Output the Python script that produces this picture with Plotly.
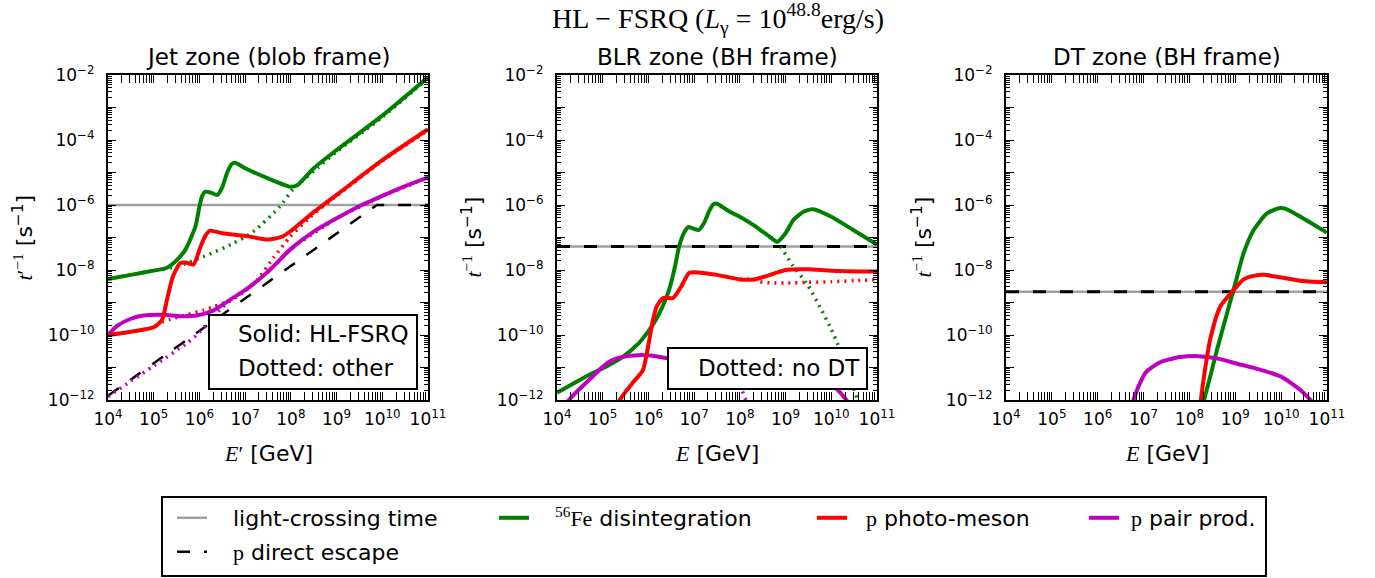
import numpy as np
import plotly.graph_objects as go

W, H = 1375, 578

# ---------------- data (log10 E [GeV], log10 rate [1/s]) ----------------
# Jet zone (blob frame)
jet_fe_E = [4.0, 4.5, 5.0, 5.29, 5.51, 5.69, 5.91, 6.0, 6.06, 6.13, 6.25, 6.39, 6.5, 6.6, 6.7, 6.78, 7.0, 7.5, 8.0, 8.15, 8.5, 9.0, 10.0, 11.0]
jet_fe_R = [-8.28, -8.15, -8.02, -7.93, -7.69, -7.38, -6.67, -6.05, -5.72, -5.59, -5.62, -5.69, -5.45, -5.03, -4.75, -4.7, -4.87, -5.18, -5.44, -5.38, -4.87, -4.31, -3.25, -2.07]
jet_fe_dot_E = [4.0, 4.5, 5.0, 5.29, 5.6, 6.09, 6.74, 7.18, 7.76, 8.05, 8.3, 8.6, 9.0, 10.0, 11.0]
jet_fe_dot_R = [-8.28, -8.15, -8.02, -7.96, -7.85, -7.59, -7.18, -6.82, -6.05, -5.5, -5.2, -4.84, -4.36, -3.3, -2.1]
jet_pm_E = [4.0, 4.5, 5.0, 5.18, 5.3, 5.42, 5.58, 5.7, 5.87, 6.02, 6.13, 6.23, 6.5, 7.0, 7.5, 7.8, 8.0, 8.42, 9.0, 10.0, 11.0]
jet_pm_R = [-10.0, -9.9, -9.76, -9.54, -8.85, -8.2, -7.79, -7.77, -7.83, -7.3, -6.95, -6.79, -6.87, -6.95, -7.06, -6.98, -6.8, -6.31, -5.69, -4.62, -3.67]
jet_pm_dot_E = [4.0, 4.5, 5.0, 5.2, 5.36, 5.72, 6.09, 6.31, 6.7, 7.0, 7.3, 7.62, 7.98, 8.4, 9.0, 10.0, 11.0]
jet_pm_dot_R = [-10.0, -9.9, -9.76, -9.6, -9.52, -9.38, -9.23, -9.13, -8.92, -8.65, -8.25, -7.62, -6.99, -6.4, -5.72, -4.65, -3.7]
jet_pp_E = [4.0, 4.2, 4.5, 4.78, 5.2, 5.6, 5.94, 6.3, 6.74, 7.0, 7.5, 8.0, 8.5, 9.0, 9.55, 10.0, 10.5, 11.0]
jet_pp_R = [-10.0, -9.72, -9.5, -9.4, -9.38, -9.42, -9.4, -9.25, -8.85, -8.62, -8.05, -7.35, -6.82, -6.41, -6.0, -5.72, -5.42, -5.15]
jet_pp_dot_E = [4.0, 4.5, 5.0, 5.73, 6.0, 6.3, 6.5, 6.74, 7.0, 7.5, 8.0, 9.0, 10.0, 11.0]
jet_pp_dot_R = [-11.9, -11.42, -10.95, -10.25, -9.92, -9.45, -9.15, -8.87, -8.63, -8.06, -7.36, -6.42, -5.73, -5.16]
jet_esc_E = [4.0, 9.88, 11.0]
jet_esc_R = [-11.87, -6.0, -6.0]
jet_lc_E = [4.0, 11.0]
jet_lc_R = [-6.0, -6.0]

# BLR zone (BH frame)
blr_fe_E = [4.0, 4.35, 4.7, 5.1, 5.44, 5.79, 6.0, 6.16, 6.3, 6.45, 6.58, 6.67, 6.78, 6.87, 6.97, 7.1, 7.22, 7.33, 7.42, 7.5, 7.77, 8.0, 8.3, 8.6, 8.82, 9.0, 9.17, 9.4, 9.6, 10.0, 10.48, 11.0]
blr_fe_R = [-11.78, -11.5, -11.23, -10.95, -10.67, -10.25, -9.88, -9.54, -9.15, -8.62, -7.9, -7.28, -6.85, -6.68, -6.72, -6.77, -6.55, -6.18, -5.98, -5.96, -6.2, -6.36, -6.62, -6.92, -7.13, -6.87, -6.46, -6.2, -6.13, -6.36, -6.77, -7.22]
blr_fe_dot_E = [8.3, 8.6, 8.82, 8.9, 9.15, 9.46, 9.75, 9.97, 10.15, 10.4, 10.65]
blr_fe_dot_R = [-6.62, -6.92, -7.13, -7.3, -7.85, -8.41, -9.13, -9.74, -10.31, -11.3, -12.3]
blr_pm_E = [5.3, 5.35, 5.5, 5.67, 5.88, 5.99, 6.1, 6.18, 6.32, 6.54, 6.7, 6.89, 7.0, 7.5, 8.0, 8.3, 8.6, 9.0, 9.5, 10.0, 11.0]
blr_pm_R = [-12.2, -12.05, -11.75, -11.45, -11.08, -10.37, -9.54, -9.13, -8.86, -8.86, -8.55, -8.09, -8.07, -8.15, -8.29, -8.29, -8.18, -8.0, -7.98, -8.02, -8.05]
blr_pm_dot_E = [8.0, 8.3, 8.44, 8.7, 9.0, 9.5, 10.0, 10.5, 11.0]
blr_pm_dot_R = [-8.29, -8.29, -8.36, -8.4, -8.4, -8.38, -8.36, -8.33, -8.3]
blr_pp_E = [4.15, 4.26, 4.5, 4.78, 5.0, 5.2, 5.44, 5.79, 6.1, 6.38, 6.8, 7.5, 8.5, 9.5, 10.1, 10.33, 10.4]
blr_pp_R = [-12.2, -12.0, -11.65, -11.28, -10.98, -10.78, -10.67, -10.62, -10.64, -10.71, -10.8, -10.95, -11.1, -11.35, -11.64, -12.0, -12.15]
blr_pp_dot_E = [5.79, 6.1, 6.38, 6.8, 7.2, 7.6, 7.9, 8.05, 8.15]
blr_pp_dot_R = [-10.62, -10.64, -10.71, -10.85, -11.05, -11.3, -11.55, -11.72, -12.1]
blr_lc_E = [4.0, 11.0]
blr_lc_R = [-7.28, -7.28]

# DT zone (BH frame)
dt_fe_E = [8.28, 8.32, 8.45, 8.6, 8.82, 9.0, 9.18, 9.4, 9.69, 9.95, 10.1, 10.42, 11.0]
dt_fe_R = [-12.4, -12.0, -11.3, -10.46, -9.33, -8.41, -7.49, -6.77, -6.26, -6.1, -6.12, -6.36, -6.85]
dt_pm_E = [8.22, 8.25, 8.3, 8.35, 8.45, 8.67, 9.0, 9.18, 9.4, 9.62, 10.0, 10.42, 11.0]
dt_pm_R = [-12.5, -12.0, -11.45, -10.97, -10.15, -9.13, -8.56, -8.29, -8.18, -8.15, -8.23, -8.33, -8.38]
dt_pp_E = [6.65, 6.78, 6.9, 7.05, 7.36, 7.8, 8.2, 8.6, 9.0, 9.5, 10.0, 10.42, 10.64, 10.7]
dt_pp_R = [-12.6, -12.0, -11.55, -11.15, -10.84, -10.68, -10.65, -10.72, -10.87, -11.05, -11.28, -11.69, -12.0, -12.1]
dt_lc_E = [4.0, 11.0]
dt_lc_R = [-8.67, -8.67]

x_exps = [4, 5, 6, 7, 8, 9, 10, 11]
y_label_exps = [-12, -10, -8, -6, -4, -2]
y_odd_exps = [-11, -9, -7, -5, -3]

panel_titles = ["Jet zone (blob frame)", "BLR zone (BH frame)", "DT zone (BH frame)"]

# ---------------- styles ----------------
GREEN = "#008000"
RED = "#ff0000"
MAG = "#bf00bf"
GRAY = "#a0a0a0"
SERIF = "Liberation Serif"
SANS = "DejaVu Sans"

panels_px = [(108, 428), (557, 877), (1006, 1327)]
top_px, bot_px = 75, 400


def px_x(p):
    return p / W


def px_y(p):
    return 1 - p / H


def lin(v):
    return [10.0 ** a for a in v]


def sup(e):
    return f"10<sup>{str(e).replace('-', '−')}</sup>"


fig = go.Figure()


def add(E, R, k, color, width, dash="solid", name=None, legend=None, smooth=0.6):
    fig.add_trace(go.Scatter(
        x=lin(E), y=lin(R), mode="lines",
        line=dict(color=color, width=width, dash=dash, shape="spline", smoothing=smooth),
        xaxis="x" if k == 1 else f"x{k}", yaxis="y" if k == 1 else f"y{k}",
        name=name, showlegend=name is not None, legend=legend, hoverinfo="skip"))


DOT = "2px,5px"
DASH = "13px,14px"
PAD3 = "\u00a0\u00a0\u00a0"
PAD2 = "\u00a0\u00a0"
PAD1 = "\u00a0"
P = f"<span style=\"font-family:{SERIF}\">p</span>"

# Jet panel
add(jet_lc_E, jet_lc_R, 1, GRAY, 2.5, name=PAD3 + "light-crossing time", legend="legend", smooth=0)
add(jet_esc_E, jet_esc_R, 1, "black", 2.5, dash=DASH,
    name=PAD3 + P + " direct escape", legend="legend5", smooth=0)
add(jet_fe_dot_E, jet_fe_dot_R, 1, GREEN, 3.5, dash=DOT)
add(jet_pm_dot_E, jet_pm_dot_R, 1, RED, 3.5, dash=DOT)
add(jet_pp_dot_E, jet_pp_dot_R, 1, MAG, 3.5, dash=DOT)
add(jet_fe_E, jet_fe_R, 1, GREEN, 4,
    name=PAD3 + f"<span style=\"font-family:{SERIF}\"><sup>56</sup>Fe</span> disintegration", legend="legend2")
add(jet_pp_E, jet_pp_R, 1, MAG, 4, name=PAD1 + P + " pair prod.", legend="legend4")
add(jet_pm_E, jet_pm_R, 1, RED, 4, name=PAD2 + P + " photo-meson", legend="legend3")

# BLR panel
add(blr_lc_E, blr_lc_R, 2, GRAY, 2.5, smooth=0)
add(blr_lc_E, blr_lc_R, 2, "black", 3, dash=DASH, smooth=0)
add(blr_fe_dot_E, blr_fe_dot_R, 2, GREEN, 3.5, dash=DOT)
add(blr_pm_dot_E, blr_pm_dot_R, 2, RED, 3.5, dash=DOT)
add(blr_pp_dot_E, blr_pp_dot_R, 2, MAG, 3.5, dash=DOT)
add(blr_fe_E, blr_fe_R, 2, GREEN, 4)
add(blr_pp_E, blr_pp_R, 2, MAG, 4)
add(blr_pm_E, blr_pm_R, 2, RED, 4)

# DT panel
add(dt_lc_E, dt_lc_R, 3, GRAY, 2.5, smooth=0)
add(dt_lc_E, dt_lc_R, 3, "black", 3, dash=DASH, smooth=0)
add(dt_fe_E, dt_fe_R, 3, GREEN, 4)
add(dt_pp_E, dt_pp_R, 3, MAG, 4)
add(dt_pm_E, dt_pm_R, 3, RED, 4)

# ---------------- axes ----------------
x_minor = [m * 10.0 ** e for e in x_exps[:-1] for m in range(2, 10)]
y_minor = [m * 10.0 ** e for e in range(-12, -2) for m in range(2, 10)]

layout = dict(
    template="none",
    width=W, height=H, margin=dict(l=0, r=0, t=0, b=0, pad=0, autoexpand=False),
    paper_bgcolor="white", plot_bgcolor="white",
    font=dict(family=SANS, color="black", size=17),
    shapes=[], annotations=[],
)

for i, (l, r) in enumerate(panels_px, start=1):
    sx = "" if i == 1 else str(i)
    common = dict(type="log", showgrid=False, zeroline=False, automargin=False,
                  ticks="inside", ticklen=8, tickwidth=1, tickcolor="black",
                  tickfont=dict(family=SANS, size=17, color="black"))
    layout["xaxis" + sx] = dict(
        common, domain=[px_x(l), px_x(r)], range=[4, 11], anchor="y" + sx,
        showline=True, linecolor="black", linewidth=2, mirror="allticks",
        tickmode="array", tickvals=[10.0 ** e for e in x_exps],
        ticktext=[sup(e) for e in x_exps], ticklabelstandoff=3,
        minor=dict(ticks="inside", ticklen=4, tickwidth=1, tickcolor="black",
                   tickmode="array", tickvals=x_minor, showgrid=False))
    layout["yaxis" + sx] = dict(
        common, domain=[px_y(bot_px), px_y(top_px)], range=[-12, -2], anchor="x" + sx,
        showline=True, linecolor="black", linewidth=2, mirror="allticks",
        tickmode="array", tickvals=[10.0 ** e for e in y_label_exps],
        ticktext=[sup(e) for e in y_label_exps], ticklabelstandoff=8,
        minor=dict(ticks="inside", ticklen=4, tickwidth=1, tickcolor="black",
                   tickmode="array", tickvals=y_minor, showgrid=False))
    # unlabelled major ticks at odd decades
    layout[f"yaxis{i + 3}"] = dict(
        common, domain=[px_y(bot_px), px_y(top_px)], range=[-12, -2], anchor="x" + sx,
        overlaying="y" + sx, showline=False, mirror="allticks", showticklabels=False,
        tickmode="array", tickvals=[10.0 ** e for e in y_odd_exps])
    cx = (l + r) / 2
    layout["annotations"].append(dict(
        text=panel_titles[i - 1], x=px_x(cx), y=px_y(57), xref="paper", yref="paper",
        showarrow=False, xanchor="center", yanchor="middle",
        font=dict(family=SANS, size=23, color="black")))
    xlab = (f"<span style=\"font-family:{SERIF}\"><i>E</i>′</span> [GeV]" if i == 1
            else f"<span style=\"font-family:{SERIF}\"><i>E</i></span> [GeV]")
    layout["annotations"].append(dict(
        text=xlab, x=px_x(cx), y=px_y(453), xref="paper", yref="paper",
        showarrow=False, xanchor="center", yanchor="middle",
        font=dict(family=SANS, size=22, color="black")))
    ylab = (f"<span style=\"font-family:{SERIF}\"><i>t</i>′<sup>−1</sup></span> [s<sup>−1</sup>]" if i == 1
            else f"<span style=\"font-family:{SERIF}\"><i>t</i><sup>−1</sup></span> [s<sup>−1</sup>]")
    ylx = [22, 471, 921][i - 1]
    layout["annotations"].append(dict(
        text=ylab, x=px_x(ylx), y=px_y((top_px + bot_px) / 2), xref="paper", yref="paper",
        showarrow=False, xanchor="center", yanchor="middle", textangle=-90,
        font=dict(family=SANS, size=22, color="black")))

# invisible anchor trace for each overlay axis so its ticks are drawn
for i in range(1, 4):
    sx = "" if i == 1 else str(i)
    fig.add_trace(go.Scatter(x=[1e4], y=[1e-12], mode="markers", marker=dict(opacity=0, size=1),
                             xaxis="x" + sx, yaxis=f"y{i + 3}", showlegend=False, hoverinfo="skip"))

# inset text boxes
layout["shapes"].append(dict(type="rect", xref="paper", yref="paper",
                             x0=px_x(209), x1=px_x(417), y0=px_y(389), y1=px_y(315),
                             line=dict(color="black", width=2), fillcolor="white", layer="above"))
layout["shapes"].append(dict(type="rect", xref="paper", yref="paper",
                             x0=px_x(668), x1=px_x(867), y0=px_y(389), y1=px_y(348),
                             line=dict(color="black", width=2), fillcolor="white", layer="above"))
for txt, x, y in [("Solid: HL-FSRQ", 236, 334), ("Dotted: other", 236, 368), ("Dotted: no DT", 696, 368)]:
    layout["annotations"].append(dict(
        text=txt, x=px_x(x), y=px_y(y), xref="paper", yref="paper", showarrow=False,
        xanchor="left", yanchor="middle", font=dict(family=SANS, size=23, color="black")))

# overall title
layout["annotations"].append(dict(
    text="HL − FSRQ (<i>L</i><sub>γ</sub> = 10<sup>48.8</sup>erg/s)",
    x=px_x(718), y=px_y(18), xref="paper", yref="paper", showarrow=False,
    xanchor="center", yanchor="middle", font=dict(family=SERIF, size=28, color="black")))

# bottom legend frame
layout["shapes"].append(dict(type="rect", xref="paper", yref="paper",
                             x0=px_x(162), x1=px_x(1266), y0=px_y(576), y1=px_y(497),
                             line=dict(color="black", width=2), fillcolor="rgba(0,0,0,0)", layer="above"))

# legend sample line start (px) and row centre (px)
leg_pos = {"legend": (176, 518), "legend2": (498, 518), "legend3": (816, 518),
           "legend4": (1088, 518), "legend5": (176, 552)}
for key, (lx, ly) in leg_pos.items():
    layout[key] = dict(x=px_x(lx - 4), y=px_y(ly), xanchor="left", yanchor="middle",
                       bgcolor="rgba(0,0,0,0)", borderwidth=0,
                       font=dict(family=SANS, size=22, color="black"))

fig.update_layout(**layout)
fig.write_html("out.html", config={"displayModeBar": False},
               post_script="document.body.style.margin='0px';")
